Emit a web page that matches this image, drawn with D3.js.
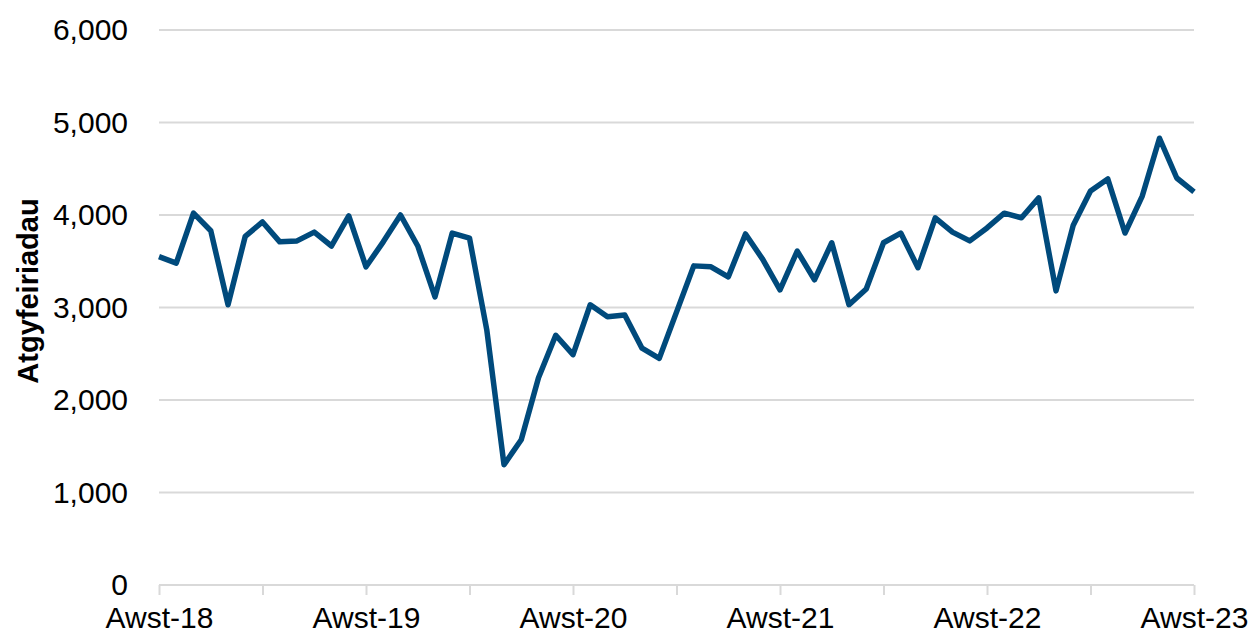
<!DOCTYPE html>
<html>
<head>
<meta charset="utf-8">
<script src="https://cdn.jsdelivr.net/npm/d3@7"></script>
<style>
  body { margin: 0; background: #fff; }
  text { font-family: "Liberation Sans", Arial, sans-serif; }
</style>
</head>
<body>
<svg id="chart" width="1251" height="635"></svg>
<script>
// monthly referrals, Aug 2018 - Aug 2023
var values = [3550, 3480, 4020, 3830, 3030, 3770, 3925, 3710, 3720, 3815, 3665, 3990,
              3440, 3710, 4000, 3665, 3115, 3805, 3750, 2760, 1300, 1570, 2240, 2700,
              2490, 3030, 2900, 2920, 2560, 2450, 2950, 3450, 3440, 3330, 3795, 3520,
              3190, 3610, 3300, 3700, 3030, 3200, 3700, 3805, 3430, 3970, 3815, 3720,
              3860, 4020, 3970, 4185, 3180, 3890, 4260, 4390, 3805, 4205, 4830, 4400,
              4250];
var yTicks = [0, 1000, 2000, 3000, 4000, 5000, 6000];
var xLabels = ["Awst-18", "Awst-19", "Awst-20", "Awst-21", "Awst-22", "Awst-23"];
var yTitle = "Atgyfeiriadau";

var svg = d3.select("#chart"),
    margin = {left: 159, right: 57, top: 30, bottom: 50},
    width = 1251 - margin.left - margin.right,
    height = 635 - margin.top - margin.bottom;

var x = d3.scaleLinear().domain([0, values.length - 1]).range([margin.left, margin.left + width]);
var y = d3.scaleLinear().domain([0, 6000]).range([margin.top + height, margin.top]);

// gridlines
svg.append("g")
  .selectAll("line")
  .data(yTicks.slice(1))
  .enter().append("line")
    .attr("x1", margin.left)
    .attr("x2", margin.left + width)
    .attr("y1", function(d) { return y(d); })
    .attr("y2", function(d) { return y(d); })
    .attr("stroke", "#d9d9d9")
    .attr("stroke-width", 2);

// y axis labels
var yAxis = svg.append("g")
  .attr("transform", "translate(" + margin.left + ",0)")
  .call(d3.axisLeft(y).tickValues(yTicks).tickSize(0).tickPadding(31).tickFormat(d3.format(",")));
yAxis.select(".domain").remove();
yAxis.selectAll("text").attr("font-size", 30).attr("fill", "#000")
  .style("font-family", "'Liberation Sans', Arial, sans-serif");

// x axis: ticks every 6 months, labels every 12
var xAxis = svg.append("g")
  .attr("transform", "translate(0," + (margin.top + height) + ")")
  .call(d3.axisBottom(x).tickValues(d3.range(0, values.length, 6)).tickSize(10).tickPadding(12)
    .tickFormat(function(d) { return d % 12 === 0 ? xLabels[d / 12] : ""; }));
xAxis.select(".domain").attr("stroke", "#d9d9d9").attr("stroke-width", 2)
  .attr("d", "M" + margin.left + ",0H" + (margin.left + width));
xAxis.selectAll(".tick line").attr("stroke", "#d9d9d9").attr("stroke-width", 2);
xAxis.selectAll("text").attr("font-size", 30).attr("fill", "#000")
  .style("font-family", "'Liberation Sans', Arial, sans-serif");

// y title
svg.append("text")
  .attr("transform", "translate(38,291) rotate(-90)")
  .attr("text-anchor", "middle")
  .attr("font-size", 29)
  .attr("font-weight", "bold")
  .text(yTitle);

// line
var line = d3.line()
  .x(function(d, i) { return x(i); })
  .y(function(d) { return y(d); });

svg.append("path")
  .datum(values)
  .attr("fill", "none")
  .attr("stroke", "#004a7c")
  .attr("stroke-width", 5.5)
  .attr("stroke-linejoin", "round")
  .attr("d", line);
</script>
</body>
</html>
